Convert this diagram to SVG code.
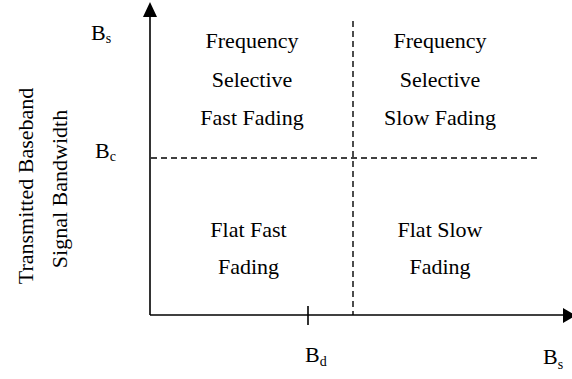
<svg xmlns="http://www.w3.org/2000/svg" width="572" height="379" viewBox="0 0 572 379">
<style>
text{font-family:"Liberation Serif","Times New Roman",serif;fill:#000}
.q{font-size:22px;text-anchor:middle}
.l{font-size:22px}
.sub{font-size:14px}
.ax{stroke:#000;stroke-width:1.6;fill:none}
.dash{stroke:#000;stroke-width:1.4;stroke-dasharray:6,4;fill:none}
.head{fill:#000}
</style>
<rect width="572" height="379" fill="#fff"/>
<g id="connectors">
<path class="ax" d="M150,315 V10"/>
<path class="head" d="M143,17 L150,2 L157,17 Z"/>
<path class="ax" d="M150,315 H566"/>
<path class="head" d="M563,308 L576,315.5 L563,323 Z"/>
<path class="ax" d="M308,306 V325"/>
<path class="dash" d="M151,158 H538"/>
<path class="dash" d="M353,21 V315"/>
</g>
<g id="ylabel">
<text class="q" transform="translate(33,186) rotate(-90)">Transmitted Baseband</text>
<text class="q" transform="translate(67,189) rotate(-90)">Signal Bandwidth</text>
</g>
<g id="bs-y"><text class="l" x="91" y="40">B<tspan class="sub" dy="3">s</tspan></text></g>
<g id="bc"><text class="l" x="95" y="158">B<tspan class="sub" dy="3">c</tspan></text></g>
<g id="bd"><text class="l" x="305" y="362">B<tspan class="sub" dy="4">d</tspan></text></g>
<g id="bs-x"><text class="l" x="543" y="364">B<tspan class="sub" dy="5">s</tspan></text></g>
<g id="q1">
<text class="q" x="252" y="48">Frequency</text>
<text class="q" x="252" y="87">Selective</text>
<text class="q" x="252" y="125">Fast Fading</text>
</g>
<g id="q2">
<text class="q" x="440" y="48">Frequency</text>
<text class="q" x="440" y="87">Selective</text>
<text class="q" x="440" y="125">Slow Fading</text>
</g>
<g id="q3">
<text class="q" x="248.5" y="237">Flat Fast</text>
<text class="q" x="248.5" y="274">Fading</text>
</g>
<g id="q4">
<text class="q" x="440" y="237">Flat Slow</text>
<text class="q" x="440" y="274">Fading</text>
</g>
</svg>
